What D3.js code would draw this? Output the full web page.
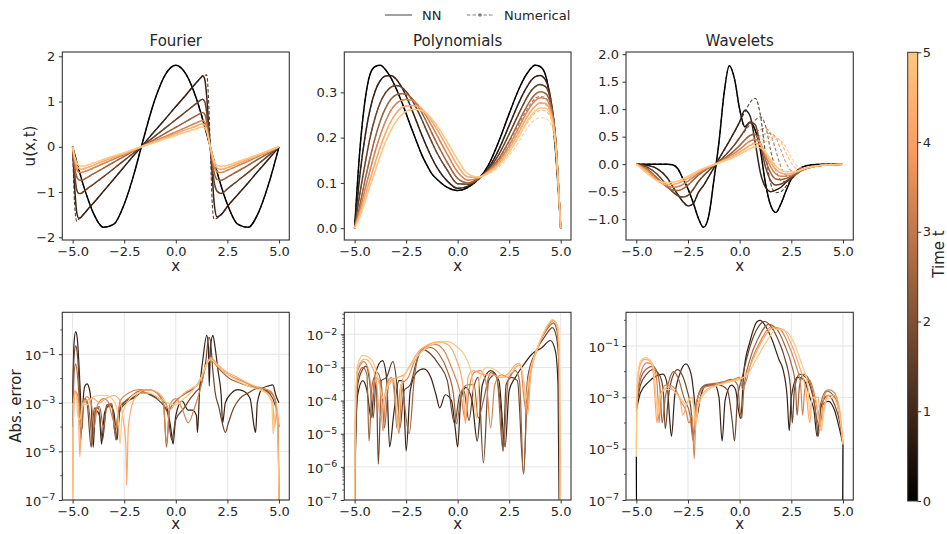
<!DOCTYPE html>
<html>
<head>
<meta charset="utf-8">
<script src="https://cdn.jsdelivr.net/npm/d3@7"></script>
<style>
  body { margin: 0; background: #fff; }
  text { font-family: "DejaVu Sans", sans-serif; fill: #262626; }
</style>
</head>
<body>
<script>
const width = 947;
const height = 534;

// times shown in every panel (colour = copper(t / 5))
const times = [0, 0.83, 1.67, 2.5, 3.33, 4.17, 5];

// ---------- Fourier: u(x,t) ----------
const fourierX = [-5,-4.9,-4.8,-4.7,-4.6,-4.5,-4.3,-4,-3.5,-3,-2.5,-2,-1.67,-1,-0.5,0,0.5,1,1.2,1.3,1.4,1.5,1.6,1.67,1.75,1.85,2,2.2,2.5,3,3.5,4,4.5,5];
const fourierNN = [
  [0,-0.17,-0.34,-0.50,-0.66,-0.82,-1.10,-1.46,-1.78,-1.71,-1.27,-0.56,0,1.06,1.60,1.80,1.60,1.06,0.77,0.61,0.45,0.28,0.11,0,-0.14,-0.31,-0.56,-0.87,-1.27,-1.71,-1.78,-1.46,-0.82,0],
  [0,-0.9,-1.45,-1.58,-1.56,-1.51,-1.40,-1.25,-0.98,-0.71,-0.44,-0.17,0,0.36,0.62,0.89,1.15,1.42,1.52,1.57,1.50,1.10,0.40,0,-0.50,-1.20,-1.55,-1.50,-1.32,-1.06,-0.80,-0.53,-0.27,0],
  [0,-0.6,-0.95,-1.03,-1.03,-1.0,-0.93,-0.83,-0.66,-0.48,-0.30,-0.12,0,0.24,0.42,0.6,0.78,0.96,1.03,1.05,1.0,0.75,0.3,0,-0.35,-0.75,-0.98,-1.03,-0.93,-0.75,-0.57,-0.38,-0.19,0],
  [0,-0.45,-0.66,-0.73,-0.74,-0.73,-0.68,-0.60,-0.47,-0.34,-0.21,-0.08,0,0.17,0.30,0.43,0.56,0.69,0.74,0.76,0.72,0.55,0.22,0,-0.27,-0.55,-0.72,-0.74,-0.67,-0.54,-0.41,-0.27,-0.14,0],
  [0,-0.33,-0.5,-0.56,-0.57,-0.56,-0.53,-0.47,-0.37,-0.27,-0.17,-0.07,0,0.13,0.23,0.33,0.43,0.53,0.57,0.58,0.55,0.43,0.18,0,-0.2,-0.42,-0.55,-0.57,-0.52,-0.42,-0.32,-0.21,-0.11,0],
  [0,-0.27,-0.42,-0.48,-0.5,-0.49,-0.46,-0.41,-0.32,-0.23,-0.15,-0.06,0,0.12,0.2,0.29,0.38,0.46,0.5,0.51,0.48,0.38,0.16,0,-0.17,-0.36,-0.47,-0.5,-0.46,-0.37,-0.28,-0.19,-0.1,0],
  [0,-0.22,-0.35,-0.41,-0.43,-0.43,-0.41,-0.36,-0.28,-0.2,-0.13,-0.05,0,0.1,0.18,0.25,0.33,0.4,0.43,0.44,0.42,0.34,0.14,0,-0.15,-0.31,-0.41,-0.43,-0.41,-0.33,-0.25,-0.17,-0.08,0]
];
// null = numerical solution lies under the NN curve
const fourierNum = [
  null,
  [0,-1.3,-1.65,-1.6,-1.56,-1.51,-1.40,-1.25,-0.98,-0.71,-0.44,-0.17,0,0.36,0.62,0.89,1.15,1.42,1.52,1.56,1.58,1.59,0.9,0,-1.1,-1.6,-1.58,-1.50,-1.32,-1.06,-0.80,-0.53,-0.27,0],
  null, null, null, null, null
];

// ---------- Polynomials: u(x,t) ----------
const polyX = [-5,-4.75,-4.5,-4.25,-4,-3.75,-3.5,-3.25,-3,-2.75,-2.5,-2.25,-2,-1.75,-1.5,-1.25,-1,-0.5,0,0.5,1,1.5,2,2.5,3,3.25,3.5,3.75,4,4.25,4.5,4.75,5];
const polyNN = [
  [0,0.17,0.28,0.34,0.357,0.36,0.35,0.333,0.31,0.283,0.253,0.222,0.192,0.163,0.14,0.12,0.108,0.09,0.083,0.09,0.108,0.14,0.192,0.253,0.31,0.333,0.35,0.36,0.357,0.34,0.28,0.17,0],
  [0,0.115,0.2,0.262,0.303,0.326,0.336,0.337,0.33,0.314,0.292,0.265,0.236,0.207,0.18,0.155,0.134,0.104,0.088,0.093,0.108,0.133,0.174,0.227,0.28,0.303,0.322,0.334,0.337,0.328,0.29,0.195,0],
  [0,0.075,0.14,0.2,0.245,0.278,0.299,0.311,0.315,0.312,0.302,0.286,0.265,0.241,0.215,0.19,0.166,0.128,0.098,0.097,0.108,0.13,0.163,0.208,0.256,0.279,0.299,0.312,0.317,0.313,0.285,0.2,0],
  [0,0.05,0.105,0.155,0.2,0.237,0.265,0.284,0.294,0.297,0.296,0.288,0.274,0.256,0.234,0.21,0.187,0.145,0.11,0.1,0.11,0.128,0.154,0.193,0.238,0.26,0.28,0.295,0.301,0.298,0.275,0.2,0],
  [0,0.04,0.085,0.128,0.17,0.206,0.236,0.259,0.274,0.282,0.284,0.283,0.276,0.263,0.246,0.226,0.205,0.163,0.124,0.106,0.111,0.126,0.148,0.183,0.225,0.247,0.267,0.281,0.288,0.286,0.266,0.195,0],
  [0,0.032,0.07,0.108,0.145,0.18,0.21,0.235,0.253,0.265,0.27,0.271,0.27,0.264,0.252,0.236,0.218,0.178,0.138,0.113,0.112,0.124,0.143,0.175,0.214,0.236,0.255,0.269,0.277,0.276,0.258,0.19,0],
  [0,0.025,0.058,0.093,0.127,0.16,0.19,0.215,0.235,0.249,0.258,0.262,0.262,0.26,0.253,0.241,0.226,0.19,0.151,0.12,0.113,0.122,0.139,0.168,0.205,0.226,0.245,0.258,0.266,0.265,0.25,0.185,0]
];
const polyNum = [
  null, null, null,
  [0,0.05,0.105,0.155,0.2,0.237,0.265,0.284,0.294,0.297,0.296,0.288,0.274,0.256,0.234,0.21,0.187,0.145,0.11,0.1,0.11,0.128,0.152,0.19,0.232,0.253,0.272,0.286,0.291,0.288,0.266,0.195,0],
  [0,0.04,0.085,0.128,0.17,0.206,0.236,0.259,0.274,0.282,0.284,0.283,0.276,0.263,0.246,0.226,0.205,0.163,0.124,0.106,0.111,0.125,0.146,0.178,0.217,0.237,0.256,0.269,0.276,0.274,0.256,0.19,0],
  [0,0.032,0.07,0.108,0.145,0.18,0.21,0.235,0.253,0.265,0.27,0.271,0.27,0.264,0.252,0.236,0.218,0.178,0.138,0.113,0.112,0.122,0.14,0.168,0.204,0.224,0.241,0.254,0.26,0.259,0.245,0.182,0],
  [0,0.025,0.058,0.093,0.127,0.16,0.19,0.215,0.235,0.249,0.258,0.262,0.262,0.26,0.253,0.241,0.226,0.19,0.151,0.12,0.113,0.12,0.135,0.161,0.193,0.212,0.228,0.239,0.244,0.243,0.232,0.175,0]
];

// ---------- Wavelets: u(x,t) ----------
const waveX = [-5,-4.5,-4,-3.5,-3.25,-3,-2.75,-2.5,-2.25,-2,-1.75,-1.5,-1.25,-1,-0.75,-0.5,-0.25,0,0.25,0.5,0.75,1,1.25,1.5,1.75,2,2.25,2.5,2.75,3,3.5,4,4.5,5];
const waveNN = [
  [0,0,0,0,-0.01,-0.08,-0.26,-0.45,-0.7,-0.98,-1.15,-0.95,-0.3,0.4,1.3,1.79,1.55,1.0,0.68,0.76,0.62,0.26,-0.35,-0.75,-0.88,-0.72,-0.48,-0.27,-0.13,-0.06,-0.01,0,0,0],
  [0,-0.02,-0.08,-0.25,-0.4,-0.55,-0.68,-0.76,-0.72,-0.52,-0.39,-0.23,-0.07,0.1,0.26,0.42,0.59,0.77,0.98,0.88,0.4,-0.15,-0.42,-0.5,-0.47,-0.42,-0.33,-0.25,-0.17,-0.11,-0.05,-0.02,-0.01,0],
  [0,-0.05,-0.18,-0.4,-0.5,-0.57,-0.6,-0.57,-0.46,-0.32,-0.21,-0.12,-0.03,0.05,0.14,0.24,0.35,0.48,0.62,0.76,0.72,0.35,-0.05,-0.3,-0.38,-0.36,-0.31,-0.24,-0.17,-0.11,-0.05,-0.02,-0.01,0],
  [0,-0.08,-0.25,-0.42,-0.47,-0.48,-0.45,-0.38,-0.29,-0.2,-0.13,-0.07,-0.02,0.04,0.1,0.17,0.25,0.34,0.44,0.52,0.54,0.38,0.08,-0.16,-0.27,-0.28,-0.26,-0.22,-0.16,-0.11,-0.05,-0.02,-0.01,0],
  [0,-0.1,-0.28,-0.4,-0.42,-0.41,-0.37,-0.31,-0.24,-0.17,-0.11,-0.06,-0.02,0.03,0.08,0.14,0.2,0.27,0.35,0.42,0.45,0.38,0.16,-0.05,-0.18,-0.22,-0.22,-0.2,-0.15,-0.11,-0.05,-0.02,-0.01,0],
  [0,-0.13,-0.3,-0.37,-0.37,-0.35,-0.31,-0.26,-0.2,-0.14,-0.09,-0.05,-0.01,0.03,0.07,0.11,0.16,0.22,0.28,0.34,0.38,0.35,0.2,0.03,-0.1,-0.16,-0.18,-0.17,-0.14,-0.1,-0.05,-0.02,-0.01,0],
  [0,-0.16,-0.3,-0.34,-0.33,-0.31,-0.27,-0.22,-0.17,-0.12,-0.08,-0.04,-0.01,0.02,0.06,0.09,0.13,0.18,0.23,0.28,0.31,0.3,0.22,0.08,-0.04,-0.11,-0.14,-0.14,-0.13,-0.1,-0.05,-0.02,-0.01,0]
];
const waveNum = [
  null,
  [0,-0.02,-0.08,-0.25,-0.4,-0.55,-0.68,-0.76,-0.72,-0.52,-0.39,-0.23,-0.07,0.1,0.26,0.42,0.59,0.77,0.95,1.12,1.2,0.9,0.2,-0.35,-0.52,-0.5,-0.4,-0.28,-0.18,-0.11,-0.05,-0.02,-0.01,0],
  [0,-0.05,-0.18,-0.4,-0.5,-0.57,-0.6,-0.57,-0.46,-0.32,-0.21,-0.12,-0.03,0.05,0.14,0.24,0.35,0.48,0.6,0.72,0.8,0.86,0.7,0.25,-0.1,-0.3,-0.32,-0.27,-0.19,-0.12,-0.05,-0.02,-0.01,0],
  [0,-0.08,-0.25,-0.42,-0.47,-0.48,-0.45,-0.38,-0.29,-0.2,-0.13,-0.07,-0.02,0.04,0.1,0.17,0.25,0.34,0.44,0.52,0.58,0.63,0.65,0.55,0.25,-0.05,-0.2,-0.22,-0.18,-0.12,-0.05,-0.02,-0.01,0],
  [0,-0.1,-0.28,-0.4,-0.42,-0.41,-0.37,-0.31,-0.24,-0.17,-0.11,-0.06,-0.02,0.03,0.08,0.14,0.2,0.27,0.35,0.42,0.48,0.52,0.55,0.56,0.48,0.25,0.02,-0.12,-0.14,-0.11,-0.05,-0.02,-0.01,0],
  [0,-0.13,-0.3,-0.37,-0.37,-0.35,-0.31,-0.26,-0.2,-0.14,-0.09,-0.05,-0.01,0.03,0.07,0.11,0.16,0.22,0.28,0.34,0.4,0.44,0.48,0.5,0.49,0.4,0.2,0.02,-0.08,-0.09,-0.04,-0.02,-0.01,0],
  [0,-0.16,-0.3,-0.34,-0.33,-0.31,-0.27,-0.22,-0.17,-0.12,-0.08,-0.04,-0.01,0.02,0.06,0.09,0.13,0.18,0.23,0.28,0.33,0.37,0.41,0.44,0.45,0.42,0.3,0.12,-0.02,-0.07,-0.04,-0.02,-0.01,0]
];

// ---------- absolute errors, [x, |NN - numerical|] per time ----------
const fourierErr = [
  [],
  [[-5,1e-3],[-4.93,0.3],[-4.85,0.85],[-4.78,0.5],[-4.7,0.05],[-4.62,2e-3],[-4.55,8e-5],[-4.5,1e-3],[-4.4,5e-3],[-4.3,6e-3],[-4.2,4e-3],[-4.1,1e-3],[-4.0,1.5e-5],[-3.9,5e-4],[-3.7,3e-4],[-3.6,2e-5],[-3.45,4e-4],[-3.2,8e-4],[-3.0,4e-4],[-2.85,3e-5],[-2.7,6e-4],[-2.4,1.2e-3],[-2.0,1.6e-3],[-1.7,2.5e-3],[-1.4,2.5e-3],[-1.0,1.8e-3],[-0.5,1e-3],[-0.25,1e-4],[-0.13,2e-5],[0,3e-4],[0.3,1.2e-3],[0.6,5e-4],[0.8,5e-4],[1.0,3e-4],[1.05,6e-5],[1.15,3e-3],[1.3,0.05],[1.5,0.6],[1.58,0.2],[1.62,5e-3],[1.68,0.2],[1.8,0.6],[1.9,0.2],[2.05,0.02],[2.2,2e-3],[2.27,1.5e-4],[2.4,1e-3],[2.7,2.5e-3],[3.0,3.5e-3],[3.3,3e-3],[3.6,1.5e-3],[3.8,1e-4],[3.87,6e-5],[3.95,1e-3],[4.2,4e-3],[4.5,5e-3],[4.7,5.5e-3],[4.85,2e-3],[5,1e-3]],
  [[-5,1e-3],[-4.93,0.08],[-4.85,0.22],[-4.77,0.1],[-4.68,5e-3],[-4.6,3e-5],[-4.5,1e-3],[-4.4,1.5e-3],[-4.3,1e-3],[-4.1,1.5e-5],[-3.95,6e-4],[-3.75,6e-4],[-3.55,3e-5],[-3.35,8e-4],[-3.1,9e-4],[-2.9,3e-5],[-2.7,5e-4],[-2.4,1e-3],[-2.0,1.8e-3],[-1.6,2.8e-3],[-1.2,2e-3],[-0.8,1.2e-3],[-0.4,4e-4],[-0.2,3e-5],[0,2e-4],[0.4,6e-4],[0.7,1.5e-3],[1.0,3e-3],[1.2,5e-3],[1.45,0.05],[1.6,0.5],[1.68,0.35],[1.78,0.03],[1.9,3e-3],[2.1,6e-4],[2.25,1.5e-4],[2.4,6e-5],[2.55,1.5e-4],[2.8,6e-4],[3.1,1.5e-3],[3.5,2.5e-3],[4.0,4e-3],[4.4,3e-3],[4.7,1.5e-3],[4.9,4e-4],[5,1e-4]],
  [[-5,1e-4],[-4.92,0.02],[-4.85,0.04],[-4.75,0.01],[-4.65,6e-4],[-4.55,1e-4],[-4.45,1e-3],[-4.3,1.2e-3],[-4.15,2e-4],[-4.05,2e-5],[-3.9,5e-4],[-3.7,7e-4],[-3.5,1e-4],[-3.35,6e-4],[-3.1,8e-4],[-2.95,6e-5],[-2.75,6e-4],[-2.3,1.5e-3],[-1.8,3e-3],[-1.3,3.5e-3],[-0.9,2.5e-3],[-0.6,1e-3],[-0.45,1.5e-5],[-0.3,5e-4],[0,1.2e-3],[0.5,2.5e-3],[1.0,5e-3],[1.3,0.015],[1.55,0.05],[1.7,0.07],[1.9,0.04],[2.2,0.02],[2.6,0.01],[3.0,7e-3],[3.5,5e-3],[4.0,4e-3],[4.5,3e-3],[4.8,1.5e-3],[4.95,1e-4],[5,1e-7]],
  [[-5,1e-7],[-4.97,1e-4],[-4.9,3e-3],[-4.8,2.5e-3],[-4.7,1e-3],[-4.62,1e-4],[-4.5,1e-3],[-4.3,1.8e-3],[-4.1,1e-3],[-3.95,1e-4],[-3.8,8e-4],[-3.5,1.5e-3],[-3.3,1.2e-3],[-3.1,3e-4],[-2.9,1e-4],[-2.7,1.2e-3],[-2.3,2.5e-3],[-1.8,3.5e-3],[-1.3,3.5e-3],[-0.9,2.5e-3],[-0.6,1e-3],[-0.45,2e-5],[-0.3,8e-4],[0,1.5e-3],[0.3,6e-4],[0.6,1.5e-4],[0.9,6e-4],[1.2,4e-3],[1.45,0.03],[1.7,0.075],[1.95,0.04],[2.3,0.02],[2.7,0.012],[3.2,8e-3],[3.7,5e-3],[4.2,4e-3],[4.6,3e-3],[4.85,1e-3],[4.97,1e-5],[5,1e-7]],
  [[-5,1e-7],[-4.97,1e-4],[-4.9,3e-3],[-4.8,2e-3],[-4.72,5e-4],[-4.65,6e-6],[-4.55,5e-4],[-4.35,1.2e-3],[-4.0,1.5e-3],[-3.7,1e-3],[-3.4,1.5e-3],[-3.0,2e-3],[-2.7,1.2e-3],[-2.55,2e-4],[-2.42,2e-5],[-2.38,4e-7],[-2.3,1e-4],[-2.0,1.5e-3],[-1.5,3.5e-3],[-1.0,3e-3],[-0.6,1.5e-3],[-0.3,5e-4],[0,1e-3],[0.4,2.5e-3],[0.8,4e-3],[1.1,6e-3],[1.4,0.025],[1.7,0.07],[2.0,0.04],[2.4,0.02],[2.9,0.012],[3.4,7e-3],[3.9,4.5e-3],[4.3,3e-3],[4.7,1e-3],[4.78,1e-4],[4.9,5e-4],[5,1e-4]],
  [[-5,1e-7],[-4.97,1e-4],[-4.9,2.5e-3],[-4.82,2e-3],[-4.75,3e-4],[-4.65,2e-4],[-4.5,1e-3],[-4.3,8e-4],[-4.1,1.5e-3],[-3.8,2e-3],[-3.4,2e-3],[-3.0,1.2e-3],[-2.8,3e-4],[-2.7,2e-5],[-2.6,3e-4],[-2.3,1.2e-3],[-1.8,2.5e-3],[-1.3,2.5e-3],[-0.8,1.5e-3],[-0.4,1e-3],[0,8e-4],[0.4,1.5e-3],[0.8,3e-3],[1.2,0.01],[1.5,0.04],[1.7,0.06],[2.0,0.035],[2.5,0.015],[3.0,0.008],[3.5,5e-3],[4.0,3.5e-3],[4.4,2.5e-3],[4.65,1e-3],[4.72,5e-5],[4.8,3e-4],[4.9,1e-3],[5,1e-7]]
];

const polyErr = [
  [],
  [[-5,1e-7],[-4.97,2e-6],[-4.85,1.5e-4],[-4.6,4e-4],[-4.4,2e-4],[-4.2,3e-5],[-4.0,6e-4],[-3.65,1.6e-3],[-3.45,5e-4],[-3.3,4e-6],[-3.1,4e-5],[-2.85,4e-4],[-2.65,4e-4],[-2.5,3e-6],[-2.3,2e-4],[-2.0,7e-4],[-1.65,9e-4],[-1.3,5e-4],[-1.05,1.5e-4],[-0.87,6e-5],[-0.6,1.5e-4],[-0.3,1e-4],[-0.12,1.5e-5],[0,4e-6],[0.15,1e-4],[0.4,2.5e-4],[0.7,1e-4],[0.95,6e-6],[1.2,3e-4],[1.6,8e-4],[2.0,4e-4],[2.3,4e-6],[2.5,2e-4],[2.8,5e-4],[3.2,1.2e-3],[3.6,2.5e-3],[4.1,4e-3],[4.5,6.5e-3],[4.75,3e-3],[4.87,3e-4],[4.92,1e-7]],
  [[-5,1e-7],[-4.97,1e-6],[-4.85,3e-4],[-4.6,9e-4],[-4.45,1.1e-3],[-4.25,3e-4],[-4.1,3e-5],[-3.95,4e-4],[-3.85,1.2e-6],[-3.7,4e-4],[-3.45,5e-4],[-3.15,1.5e-3],[-2.95,3e-4],[-2.8,1.5e-5],[-2.6,2e-4],[-2.3,3e-4],[-2.0,1.5e-3],[-1.7,3.5e-3],[-1.3,2.5e-3],[-0.9,1.2e-3],[-0.5,4e-4],[-0.15,2e-5],[0.1,1.5e-4],[0.3,2e-4],[0.55,2.5e-5],[0.75,2e-4],[1.0,5e-4],[1.25,1.3e-6],[1.5,4e-4],[1.8,6e-4],[2.1,5e-5],[2.2,3e-6],[2.35,3e-4],[2.6,5e-4],[2.9,4e-4],[3.2,6e-7],[3.4,5e-4],[3.8,3e-3],[4.3,1e-2],[4.6,1.6e-2],[4.8,8e-3],[4.92,1e-3],[4.95,1e-7]],
  [[-5,1e-7],[-4.97,5e-6],[-4.85,5e-4],[-4.6,1e-3],[-4.4,6e-4],[-4.3,6e-6],[-4.15,3e-4],[-3.9,7e-4],[-3.7,3e-4],[-3.55,1.5e-5],[-3.35,3e-4],[-3.1,4e-4],[-2.95,1.5e-5],[-2.75,3e-4],[-2.35,1e-5],[-2.1,5e-4],[-1.8,3e-3],[-1.3,4e-3],[-0.9,2.5e-3],[-0.5,8e-4],[-0.2,1.5e-4],[-0.05,2e-5],[0.2,2e-4],[0.5,3e-4],[0.8,3e-4],[1.0,3e-5],[1.25,1e-4],[1.6,7e-4],[1.9,5e-4],[2.2,3e-6],[2.45,4e-4],[2.8,8e-4],[3.0,4e-4],[3.2,6e-7],[3.4,4e-4],[3.8,3e-3],[4.3,1.3e-2],[4.65,2.2e-2],[4.85,1e-2],[4.93,1e-3],[4.96,1e-7]],
  [[-5,1e-7],[-4.97,1e-5],[-4.85,8e-4],[-4.55,1.5e-3],[-4.3,7e-4],[-4.15,1e-4],[-4.0,5e-4],[-3.8,4e-4],[-3.62,1.2e-5],[-3.45,3e-4],[-3.2,5e-4],[-3.0,6e-5],[-2.85,1e-5],[-2.7,3e-4],[-2.4,5e-4],[-2.1,1.5e-3],[-1.6,4e-3],[-1.1,5e-3],[-0.7,3.5e-3],[-0.3,1e-3],[0.15,1.5e-4],[0.38,2.5e-5],[0.55,2e-4],[0.8,7e-4],[1.1,8e-4],[1.4,3e-4],[1.6,1.5e-5],[1.8,3e-4],[2.1,6e-4],[2.5,5e-4],[2.8,1e-3],[3.05,1.2e-3],[3.2,1.5e-4],[3.35,4e-5],[3.5,6e-4],[3.9,4e-3],[4.3,1.5e-2],[4.65,2.6e-2],[4.85,1.5e-2],[4.93,1e-3],[4.96,1e-7]],
  [[-5,1e-7],[-4.97,2e-5],[-4.85,1e-3],[-4.5,1.8e-3],[-4.2,1.2e-3],[-3.95,4e-4],[-3.75,3e-5],[-3.6,1e-4],[-3.3,4e-4],[-2.9,5e-4],[-2.6,6e-4],[-2.3,1.2e-3],[-1.9,3e-3],[-1.4,5e-3],[-0.9,6e-3],[-0.5,5e-3],[-0.1,2e-3],[0.25,3e-4],[0.38,2e-5],[0.5,5e-4],[0.75,8e-4],[1.0,7e-4],[1.3,6e-4],[1.7,6e-4],[2.1,5e-4],[2.5,7e-4],[2.8,1.2e-3],[3.0,1.3e-3],[3.2,4e-4],[3.4,4e-5],[3.55,6e-4],[3.9,4e-3],[4.3,1.6e-2],[4.65,2.7e-2],[4.85,1.5e-2],[4.94,1e-3],[4.97,1e-7]],
  [[-5,1e-7],[-4.97,3e-5],[-4.85,1.2e-3],[-4.6,2.3e-3],[-4.3,2e-3],[-4.0,1e-3],[-3.8,3e-4],[-3.6,1.1e-4],[-3.35,3e-4],[-3.05,4e-4],[-2.9,1.2e-5],[-2.75,3e-4],[-2.45,8e-4],[-2.0,2e-3],[-1.5,4e-3],[-1.0,5.5e-3],[-0.5,6e-3],[0,4e-3],[0.4,2e-3],[0.7,5e-4],[0.9,3e-5],[1.05,4e-4],[1.4,1e-3],[1.9,8e-4],[2.3,5e-4],[2.7,8e-4],[3.0,1.2e-3],[3.2,4e-4],[3.3,1e-4],[3.45,5e-4],[3.8,3e-3],[4.2,1.2e-2],[4.6,2.8e-2],[4.85,1.8e-2],[4.95,1e-3],[4.98,1e-7]]
];

const waveErr = [
  [[-5,5e-6],[-4.98,1e-9],[4.98,1e-9],[5,1.5e-5]],
  [[-5,3e-4],[-4.8,1.5e-3],[-4.4,4e-3],[-4.0,7e-3],[-3.7,8e-3],[-3.5,3e-3],[-3.4,2e-4],[-3.3,3e-5],[-3.15,1e-3],[-2.9,8e-3],[-2.6,0.02],[-2.35,8e-3],[-2.2,1e-3],[-2.1,1.5e-4],[-1.9,1e-3],[-1.6,3e-3],[-1.2,3e-3],[-1.0,1e-3],[-0.85,2e-5],[-0.7,8e-4],[-0.4,3e-3],[-0.2,2e-3],[-0.05,3e-4],[0.05,1.5e-4],[0.2,0.01],[0.5,0.15],[0.85,0.9],[1.0,1.0],[1.25,0.6],[1.6,0.15],[1.9,0.03],[2.1,0.012],[2.3,1e-3],[2.4,5e-5],[2.5,1e-3],[2.8,6e-3],[3.1,5e-3],[3.4,1e-3],[3.6,3e-4],[3.75,3e-5],[3.9,4e-4],[4.3,7e-4],[4.6,3e-4],[4.85,5e-5],[5,1.5e-5]],
  [[-5,4e-4],[-4.8,3e-3],[-4.5,8e-3],[-4.2,0.012],[-3.9,8e-3],[-3.7,2e-3],[-3.6,6e-5],[-3.45,1e-3],[-3.2,8e-3],[-3.0,0.012],[-2.8,8e-3],[-2.55,2e-3],[-2.35,3e-4],[-2.25,3e-5],[-2.1,5e-4],[-1.8,2.5e-3],[-1.4,3e-3],[-1.0,3e-3],[-0.6,2e-3],[-0.35,1e-4],[-0.25,2e-5],[-0.1,1e-3],[0.1,5e-3],[0.4,0.05],[0.8,0.4],[1.2,0.9],[1.5,0.6],[1.9,0.15],[2.2,0.03],[2.45,3e-3],[2.55,1e-4],[2.65,2e-3],[2.9,8e-3],[3.2,6e-3],[3.5,1.5e-3],[3.7,2e-4],[3.8,3e-5],[3.95,5e-4],[4.3,1.2e-3],[4.6,5e-4],[4.85,1e-4],[5,1.5e-5]],
  [[-5,5e-4],[-4.8,5e-3],[-4.5,0.013],[-4.2,0.016],[-4.0,0.01],[-3.85,2e-3],[-3.75,1e-4],[-3.6,1e-3],[-3.4,5e-3],[-3.2,0.01],[-2.95,5e-3],[-2.7,1e-3],[-2.4,2e-4],[-2.25,2e-5],[-2.1,6e-4],[-1.7,3e-3],[-1.2,3.5e-3],[-0.8,4e-3],[-0.4,5e-3],[-0.1,3e-3],[0.0,4e-4],[0.1,1.5e-4],[0.2,2e-3],[0.5,0.03],[0.9,0.2],[1.4,0.7],[1.8,0.45],[2.2,0.1],[2.5,0.02],[2.7,3e-3],[2.78,2e-4],[2.9,3e-3],[3.1,8e-3],[3.35,5e-3],[3.6,8e-4],[3.75,1e-4],[3.85,3e-4],[4.2,1.8e-3],[4.6,1e-3],[4.85,1.5e-4],[5,1.5e-5]],
  [[-5,6e-4],[-4.8,8e-3],[-4.5,0.022],[-4.25,0.02],[-4.05,8e-3],[-3.95,8e-4],[-3.9,1e-4],[-3.8,1e-3],[-3.6,3e-3],[-3.4,3e-3],[-3.1,2e-3],[-2.8,6e-4],[-2.6,3e-4],[-2.45,1e-4],[-2.3,2e-4],[-2.2,4e-6],[-2.1,6e-4],[-1.7,2.5e-3],[-1.2,3e-3],[-0.7,4e-3],[-0.3,5e-3],[0.0,6e-3],[0.15,2e-3],[0.3,4e-3],[0.6,0.03],[1.0,0.15],[1.5,0.55],[1.9,0.5],[2.3,0.15],[2.7,0.02],[2.95,3e-3],[3.05,2e-4],[3.15,2e-3],[3.35,5e-3],[3.6,1.5e-3],[3.8,2e-4],[3.9,8e-5],[4.05,8e-4],[4.3,2e-3],[4.6,1.5e-3],[4.85,2e-4],[5,1.5e-5]],
  [[-5,1e-5],[-4.95,3e-3],[-4.8,0.02],[-4.6,0.03],[-4.4,0.028],[-4.2,0.012],[-4.1,1e-3],[-4.0,1e-4],[-3.9,8e-4],[-3.7,2e-3],[-3.4,2.5e-3],[-3.1,1.5e-3],[-2.9,1e-3],[-2.75,2e-4],[-2.55,6e-4],[-2.3,1e-3],[-2.2,3e-4],[-2.15,5e-5],[-2.05,5e-4],[-1.6,2e-3],[-1.1,3e-3],[-0.6,4e-3],[-0.2,5e-3],[0.2,6e-3],[0.6,0.025],[1.0,0.12],[1.6,0.5],[2.1,0.45],[2.5,0.12],[2.9,0.015],[3.2,2e-3],[3.4,1e-4],[3.5,1e-3],[3.8,1e-3],[3.95,5e-5],[4.05,3e-4],[4.3,1.2e-3],[4.6,1.2e-3],[4.85,3e-4],[5,1.5e-5]],
  [[-5,5e-6],[-4.95,5e-3],[-4.8,0.025],[-4.55,0.035],[-4.35,0.03],[-4.15,0.012],[-4.05,1e-3],[-3.95,2e-4],[-3.85,1e-3],[-3.6,2e-3],[-3.3,2e-3],[-3.0,1.2e-3],[-2.8,8e-4],[-2.6,5e-4],[-2.35,1e-3],[-2.2,4e-4],[-2.1,1e-4],[-2.0,5e-4],[-1.5,2e-3],[-1.0,3e-3],[-0.5,4e-3],[0.0,5e-3],[0.4,8e-3],[0.8,0.03],[1.3,0.15],[1.8,0.45],[2.2,0.4],[2.6,0.15],[3.0,0.02],[3.3,3e-3],[3.4,2e-4],[3.5,1e-3],[3.7,8e-4],[3.9,5e-5],[4.0,1e-4],[4.2,8e-4],[4.5,1e-3],[4.8,3e-4],[5,1.5e-5]]
];

const xTicks = [-5, -2.5, 0, 2.5, 5];

// matplotlib "copper"
function copper(f) {
  return d3.rgb(Math.min(1, 1.25 * f) * 255, 0.7812 * f * 255, 0.4975 * f * 255).formatHex();
}
const timeColor = t => copper(t / 5);

const svg = d3.select('body').append('svg')
  .attr('width', width)
  .attr('height', height);

const defs = svg.append('defs');

const cols = [[62.3, 289.3], [344.3, 571], [626, 853.3]];
const rows = [[52, 240], [312.3, 500]];

const topPanels = [
  {title: 'Fourier', xs: fourierX, nn: fourierNN, num: fourierNum, ydom: [-2.06, 2.095], yticks: [-2, -1, 0, 1, 2], fmt: d3.format('d'), ylabel: 'u(x,t)'},
  {title: 'Polynomials', xs: polyX, nn: polyNN, num: polyNum, ydom: [-0.026, 0.389], yticks: [0, 0.1, 0.2, 0.3], fmt: d3.format('.1f')},
  {title: 'Wavelets', xs: waveX, nn: waveNN, num: waveNum, ydom: [-1.38, 2.04], yticks: [-1, -0.5, 0, 0.5, 1, 1.5, 2], fmt: d3.format('.1f')}
];

const botPanels = [
  {err: fourierErr, ydom: [1e-7, Math.pow(10, 0.725)], major: [1e-7, 1e-5, 1e-3, 1e-1], minor: [1e-6, 1e-4, 1e-2, 1], ylabel: 'Abs. error'},
  {err: polyErr, ydom: [1e-7, Math.pow(10, -1.336)], major: [1e-7, 1e-6, 1e-5, 1e-4, 1e-3, 1e-2], minor: null},
  {err: waveErr, ydom: [1e-7, Math.pow(10, 0.313)], major: [1e-7, 1e-5, 1e-3, 1e-1], minor: [1e-6, 1e-4, 1e-2, 1]}
];

function styleAxis(g) {
  g.select('.domain').remove();
  g.selectAll('.tick line').attr('stroke', '#333');
  g.selectAll('.tick text').attr('font-size', 13).attr('font-family', '"DejaVu Sans", sans-serif').attr('fill', '#262626');
}

function addClip(id, w, h) {
  defs.append('clipPath').attr('id', id)
    .append('rect').attr('x', 0).attr('y', 0).attr('width', w).attr('height', h);
}

// ---- top row ----
topPanels.forEach((p, i) => {
  const [l, r] = cols[i];
  const [t, b] = rows[0];
  const w = r - l, h = b - t;
  const g = svg.append('g').attr('transform', `translate(${l},${t})`);
  const x = d3.scaleLinear().domain([-5.5, 5.5]).range([0, w]);
  const y = d3.scaleLinear().domain(p.ydom).range([h, 0]);
  const cid = 'clipTop' + i;
  addClip(cid, w, h);

  const line = d3.line().x(d => x(d[0])).y(d => y(d[1])).curve(d3.curveMonotoneX);
  const plot = g.append('g').attr('clip-path', `url(#${cid})`);

  times.forEach((tm, k) => {
    const numVals = p.num[k] || p.nn[k];
    plot.append('path')
      .attr('d', line(d3.zip(p.xs, numVals)))
      .attr('fill', 'none')
      .attr('stroke', timeColor(tm))
      .attr('stroke-width', 1.1)
      .attr('stroke-dasharray', '3.5,2')
      .attr('opacity', 0.85);
    plot.append('path')
      .attr('d', line(d3.zip(p.xs, p.nn[k])))
      .attr('fill', 'none')
      .attr('stroke', timeColor(tm))
      .attr('stroke-width', 1.5);
  });

  g.append('rect').attr('width', w).attr('height', h)
    .attr('fill', 'none').attr('stroke', '#333').attr('stroke-width', 1.1);

  g.append('g').attr('transform', `translate(0,${h})`)
    .call(d3.axisBottom(x).tickValues(xTicks).tickFormat(d3.format('.1f')).tickSize(3.5).tickPadding(3.5))
    .call(styleAxis);
  g.append('g')
    .call(d3.axisLeft(y).tickValues(p.yticks).tickFormat(p.fmt).tickSize(3.5).tickPadding(3.5))
    .call(styleAxis);

  g.append('text').attr('x', w / 2).attr('y', -6).attr('text-anchor', 'middle')
    .attr('font-size', 15).text(p.title);
  g.append('text').attr('x', w / 2).attr('y', h + 30.5).attr('text-anchor', 'middle')
    .attr('font-size', 15).text('x');
  if (p.ylabel) {
    g.append('text').attr('transform', `translate(${30 - l},${h / 2}) rotate(-90)`)
      .attr('text-anchor', 'middle').attr('dy', '0.35em').attr('font-size', 15).text(p.ylabel);
  }
});

// ---- bottom row ----
const supMinus = n => String(n).replace('-', '\u2212');

botPanels.forEach((p, i) => {
  const [l, r] = cols[i];
  const [t, b] = rows[1];
  const w = r - l, h = b - t;
  const g = svg.append('g').attr('transform', `translate(${l},${t})`);
  const x = d3.scaleLinear().domain([-5.5, 5.5]).range([0, w]);
  const y = d3.scaleLog().domain(p.ydom).range([h, 0]);
  const cid = 'clipBot' + i;
  addClip(cid, w, h);

  // grid
  const grid = g.append('g');
  grid.selectAll('.gx').data(xTicks).join('line')
    .attr('x1', d => x(d)).attr('x2', d => x(d)).attr('y1', 0).attr('y2', h)
    .attr('stroke', '#e5e5e5').attr('stroke-width', 1);
  grid.selectAll('.gy').data(p.major).join('line')
    .attr('x1', 0).attr('x2', w).attr('y1', d => y(d)).attr('y2', d => y(d))
    .attr('stroke', '#e5e5e5').attr('stroke-width', 1);

  const line = d3.line().x(d => x(d[0])).y(d => y(d[1])).curve(d3.curveMonotoneX);
  const plot = g.append('g').attr('clip-path', `url(#${cid})`);
  p.err.forEach((pts, k) => {
    if (!pts.length) return;
    plot.append('path')
      .attr('d', line(pts))
      .attr('fill', 'none')
      .attr('stroke', timeColor(times[k]))
      .attr('stroke-width', 1.2);
  });

  g.append('rect').attr('width', w).attr('height', h)
    .attr('fill', 'none').attr('stroke', '#333').attr('stroke-width', 1.1);

  g.append('g').attr('transform', `translate(0,${h})`)
    .call(d3.axisBottom(x).tickValues(xTicks).tickFormat(d3.format('.1f')).tickSize(3.5).tickPadding(3.5))
    .call(styleAxis);

  // minor ticks
  let minor = p.minor;
  if (!minor) {
    minor = [];
    for (let e = -7; e <= -2; e++) for (let m = 2; m <= 9; m++) minor.push(m * Math.pow(10, e));
  }
  minor = minor.filter(v => v >= p.ydom[0] && v <= p.ydom[1]);
  g.selectAll('.minor').data(minor).join('line')
    .attr('x1', -2).attr('x2', 0).attr('y1', d => y(d)).attr('y2', d => y(d))
    .attr('stroke', '#333').attr('stroke-width', 0.8);

  const ya = g.append('g')
    .call(d3.axisLeft(y).tickValues(p.major).tickFormat('').tickSize(3.5).tickPadding(3.5))
    .call(styleAxis);
  ya.selectAll('.tick text').each(function(d) {
    const e = Math.round(Math.log10(d));
    const txt = d3.select(this).attr('dy', '0.4em');
    txt.append('tspan').text('10');
    txt.append('tspan').attr('dy', '-0.55em').attr('font-size', 9.5).text(supMinus(e));
  });

  g.append('text').attr('x', w / 2).attr('y', h + 29.5).attr('text-anchor', 'middle')
    .attr('font-size', 15).text('x');
  if (p.ylabel) {
    g.append('text').attr('transform', `translate(${16 - l},${h / 2}) rotate(-90)`)
      .attr('text-anchor', 'middle').attr('dy', '0.35em').attr('font-size', 15).text(p.ylabel);
  }
});

// ---- colorbar ----
const cbX = 907.7, cbW = 10, cbTop = 52.3, cbBot = 501;
const grad = defs.append('linearGradient').attr('id', 'copperGrad')
  .attr('x1', 0).attr('y1', 1).attr('x2', 0).attr('y2', 0);
d3.range(0, 1.0001, 0.05).forEach(f => {
  grad.append('stop').attr('offset', f).attr('stop-color', copper(f));
});
svg.append('rect').attr('x', cbX).attr('y', cbTop).attr('width', cbW).attr('height', cbBot - cbTop)
  .attr('fill', 'url(#copperGrad)').attr('stroke', '#333').attr('stroke-width', 1);
const cbScale = d3.scaleLinear().domain([0, 5]).range([cbBot, cbTop]);
svg.append('g').attr('transform', `translate(${cbX + cbW},0)`)
  .call(d3.axisRight(cbScale).tickValues([0, 1, 2, 3, 4, 5]).tickFormat(d3.format('d')).tickSize(3.5).tickPadding(1.5))
  .call(styleAxis);
svg.append('text').attr('transform', 'translate(938.5,254) rotate(-90)')
  .attr('text-anchor', 'middle').attr('dy', '0.35em').attr('font-size', 15).text('Time t');

// ---- legend ----
const leg = svg.append('g');
leg.append('line').attr('x1', 385).attr('x2', 412).attr('y1', 15).attr('y2', 15)
  .attr('stroke', '#808080').attr('stroke-width', 1.5);
leg.append('text').attr('x', 422).attr('y', 19.5).attr('font-size', 13).text('NN');
leg.append('line').attr('x1', 467).attr('x2', 493).attr('y1', 15).attr('y2', 15)
  .attr('stroke', '#808080').attr('stroke-width', 1.1).attr('stroke-dasharray', '3.5,2');
leg.append('circle').attr('cx', 480).attr('cy', 15).attr('r', 1.8).attr('fill', '#808080');
leg.append('text').attr('x', 504).attr('y', 19.5).attr('font-size', 13).text('Numerical');
</script>
</body>
</html>
